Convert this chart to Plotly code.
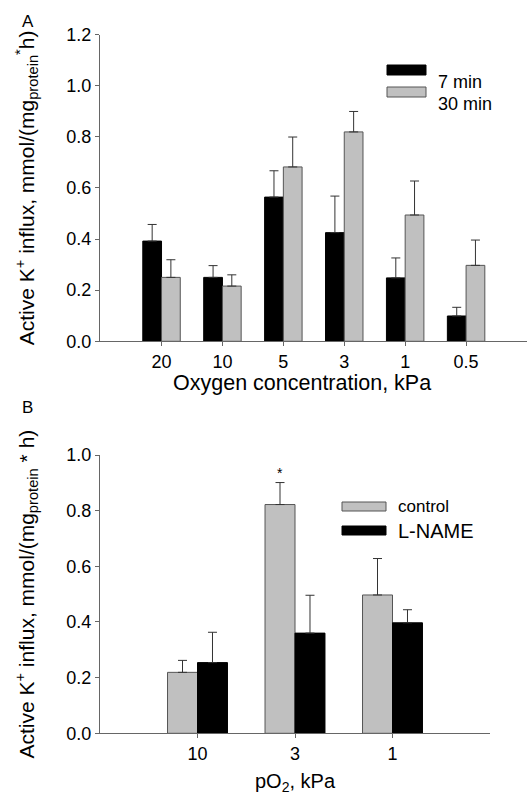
import plotly.graph_objects as go

# Panel A: oxygen concentration series
oxygen_kpa = ["20", "10", "5", "3", "1", "0.5"]
influx_7min = [0.392, 0.250, 0.564, 0.425, 0.248, 0.099]
err_7min = [0.065, 0.046, 0.103, 0.143, 0.078, 0.034]
influx_30min = [0.250, 0.216, 0.682, 0.819, 0.494, 0.297]
err_30min = [0.069, 0.044, 0.117, 0.080, 0.133, 0.099]

# Panel B: pO2 with and without L-NAME
po2_kpa = ["10", "3", "1"]
influx_control = [0.219, 0.822, 0.497]
err_control = [0.043, 0.079, 0.131]
influx_lname = [0.254, 0.360, 0.397]
err_lname = [0.109, 0.136, 0.047]
star_labels = ["", "*", ""]

W, H = 532, 798
FONT = "Arial, Liberation Sans, sans-serif"
AXIS_GREY = "#666666"
BAR_GREY = "#c0c0c0"
EDGE_GREY = "#555555"
ERR_COL = "#333333"


def px(x):
    return x / W


def py(y):
    return 1 - y / H


def err(vals):
    return dict(type="data", array=vals, arrayminus=[0] * len(vals), symmetric=False,
                color=ERR_COL, thickness=1, width=4.5)


fig = go.Figure()

fig.add_trace(go.Bar(x=oxygen_kpa, y=influx_7min, error_y=err(err_7min), name="7 min",
                     marker=dict(color="black", line=dict(color="black", width=1)),
                     xaxis="x", yaxis="y", showlegend=False))
fig.add_trace(go.Bar(x=oxygen_kpa, y=influx_30min, error_y=err(err_30min), name="30 min",
                     marker=dict(color=BAR_GREY, line=dict(color=EDGE_GREY, width=1)),
                     xaxis="x", yaxis="y", showlegend=False))
fig.add_trace(go.Bar(x=po2_kpa, y=influx_control, error_y=err(err_control), name="control",
                     marker=dict(color=BAR_GREY, line=dict(color=EDGE_GREY, width=1)),
                     xaxis="x2", yaxis="y2", showlegend=False))
fig.add_trace(go.Bar(x=po2_kpa, y=influx_lname, error_y=err(err_lname), name="L-NAME",
                     marker=dict(color="black", line=dict(color="black", width=1)),
                     xaxis="x2", yaxis="y2", showlegend=False))

axis_common = dict(showline=True, linecolor=AXIS_GREY, linewidth=1, ticks="outside",
                   tickcolor=AXIS_GREY, ticklen=4, tickwidth=1, showgrid=False,
                   zeroline=False, automargin=False,
                   tickfont=dict(family=FONT, size=18, color="black"))

ytitle_a = "Active K<sup>+</sup> influx, mmol/(mg<sub>protein</sub><sup>*</sup>h)"
ytitle_b = "Active K<sup>+</sup> influx, mmol/(mg<sub>protein</sub> * h)"
title_font = dict(family=FONT, size=21, color="black")

fig.update_layout(
    width=W, height=H,
    margin=dict(l=0, r=0, t=0, b=0),
    paper_bgcolor="white", plot_bgcolor="white",
    barmode="group", bargap=0.385, bargroupgap=0,
    xaxis=dict(domain=[px(100), px(527)], anchor="y", type="category",
               range=[-1.01, 6.0], **axis_common),
    yaxis=dict(domain=[py(341.3), py(34.5)], anchor="x", range=[0, 1.2],
               dtick=0.2, tickformat=".1f",
               title=dict(text=ytitle_a, font=title_font, standoff=26), **axis_common),
    xaxis2=dict(domain=[px(100), px(490)], anchor="y2", type="category",
                range=[-1.0, 3.0], **axis_common),
    yaxis2=dict(domain=[py(733.3), py(455)], anchor="x2", range=[0, 1.0],
                dtick=0.2, tickformat=".1f",
                title=dict(text=ytitle_b, font=title_font, standoff=26), **axis_common),
)

annotations = [
    dict(text="A", x=px(20), y=py(10), xref="paper", yref="paper", showarrow=False,
         yanchor="top", font=dict(family=FONT, size=17, color="black")),
    dict(text="B", x=px(20), y=py(396), xref="paper", yref="paper", showarrow=False,
         yanchor="top", font=dict(family=FONT, size=17, color="black")),
    dict(text="Oxygen concentration, kPa", x=px(302), y=py(383), xref="paper", yref="paper",
         showarrow=False, font=dict(family=FONT, size=21.5, color="black")),
    dict(text="pO<sub>2</sub>, kPa", x=px(295), y=py(797), xref="paper", yref="paper",
         yanchor="bottom", showarrow=False, font=dict(family=FONT, size=20, color="black")),
    # legend texts
    dict(text="7 min", x=px(436), y=py(70), xref="paper", yref="paper", xanchor="left",
         showarrow=False, font=dict(family=FONT, size=18, color="black")),
    dict(text="30 min", x=px(436), y=py(92), xref="paper", yref="paper", xanchor="left",
         showarrow=False, font=dict(family=FONT, size=18, color="black")),
    dict(text="control", x=px(396), y=py(506), xref="paper", yref="paper", xanchor="left",
         showarrow=False, font=dict(family=FONT, size=17, color="black")),
    dict(text="L-NAME", x=px(396), y=py(531), xref="paper", yref="paper", xanchor="left",
         showarrow=False, font=dict(family=FONT, size=20, color="black")),
]

# significance marker above the control bar
bar_w = (1 - 0.385) / 2
for i, s in enumerate(star_labels):
    if s:
        annotations.append(dict(text=s, x=i - bar_w / 2, y=influx_control[i] + err_control[i],
                                xref="x2", yref="y2", showarrow=False, yanchor="bottom",
                                font=dict(family=FONT, size=14, color="black")))

fig.update_layout(annotations=annotations)

# legend swatches
swatches = [
    (387, 65, 426, 75, "black", "black"),
    (387, 87, 426, 97, BAR_GREY, EDGE_GREY),
    (342, 502, 386, 511, BAR_GREY, EDGE_GREY),
    (342, 526, 386, 535, "black", "black"),
]
for x0, y0, x1, y1, fill, edge in swatches:
    fig.add_shape(type="rect", xref="paper", yref="paper", x0=px(x0), x1=px(x1),
                  y0=py(y1), y1=py(y0), fillcolor=fill, line=dict(color=edge, width=1))

fig.write_html("out.html")
